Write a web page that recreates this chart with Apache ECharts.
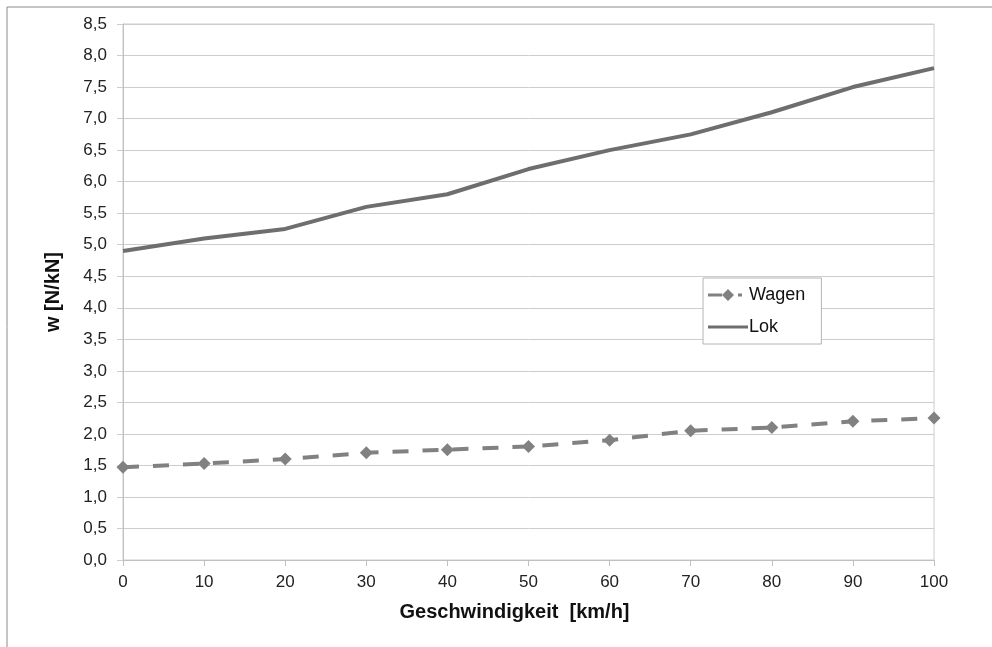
<!doctype html>
<meta charset="utf-8">
<style>
  html, body {
    margin: 0;
    height: 100%;
    background: #fff;
  }

  #chart {
    width: 992px;
    height: 647px;
  }
</style>
<script src="https://cdn.jsdelivr.net/npm/echarts@6/dist/echarts.min.js"></script>

<div id="chart"></div>

<script>
  const speeds = [0, 10, 20, 30, 40, 50, 60, 70, 80, 90, 100]
  const wagen = [1.47, 1.53, 1.6, 1.7, 1.75, 1.8, 1.9, 2.05, 2.1, 2.2, 2.25]
  const lok = [4.9, 5.1, 5.25, 5.6, 5.8, 6.2, 6.5, 6.75, 7.1, 7.5, 7.8]

  const font = 'Liberation Sans, Arial, sans-serif'
  const gridColor = '#cdcdcd'
  // legend icons drawn inside a 40x12 box (corner moves keep the box)
  const wagenIcon = 'path://M0,0 L0,0 M40,12 L40,12 M0,4.5 L14,4.5 L14,7.5 L0,7.5 Z M14,6 L20,0 L26,6 L20,12 Z M30,4.5 L34,4.5 L34,7.5 L30,7.5 Z'
  const lokIcon = 'path://M0,0 L0,0 M40,12 L40,12 M0,4.5 L40,4.5 L40,7.5 L0,7.5 Z'
  let chart = echarts.init(document.getElementById('chart'))

  chart.setOption({
    animation: false,
    graphic: [{
      type: 'rect',
      shape: { x: 7, y: 7, width: 1100, height: 800 },
      style: { fill: 'none', stroke: '#8c8c8c', lineWidth: 1 },
      silent: true,
      z: -1,
    }],
    grid: {
      left: 123,
      right: 58,
      top: 24,
      bottom: 87,
      show: true,
      borderColor: gridColor,
      borderWidth: 1,
    },
    legend: {
      orient: 'vertical',
      left: 703,
      top: 278,
      width: 118,
      itemWidth: 40,
      itemHeight: 12,
      itemGap: 14,
      padding: [8, 16, 8, 5],
      borderColor: '#b4b4b4',
      borderWidth: 1,
      backgroundColor: '#fff',
      textStyle: { fontFamily: font, fontSize: 18, color: '#111', padding: [0, 0, 0, -4] },
      data: [
        { name: 'Wagen', icon: wagenIcon, itemStyle: { color: '#818181' } },
        { name: 'Lok', icon: lokIcon, itemStyle: { color: '#6e6e6e' } },
      ],
    },
    xAxis: {
      type: 'value',
      min: 0,
      max: 100,
      interval: 10,
      name: 'Geschwindigkeit  [km/h]',
      nameLocation: 'middle',
      nameGap: 42,
      nameTextStyle: { fontFamily: font, fontSize: 20, fontWeight: 'bold', color: '#111', padding: [0, 28, 0, 0] },
      axisLine: { lineStyle: { color: '#c0c0c0', width: 1 } },
      axisTick: { show: true, length: 6, lineStyle: { color: '#c0c0c0' } },
      axisLabel: { fontFamily: font, fontSize: 17, color: '#222', margin: 14 },
      splitLine: { show: false },
    },
    yAxis: {
      type: 'value',
      min: 0,
      max: 8.5,
      interval: 0.5,
      name: 'w [N/kN]',
      nameLocation: 'middle',
      nameGap: 60,
      nameTextStyle: { fontFamily: font, fontSize: 20, fontWeight: 'bold', color: '#111' },
      axisLine: { show: true, lineStyle: { color: '#c0c0c0', width: 1 } },
      axisTick: { show: true, length: 6, lineStyle: { color: gridColor } },
      axisLabel: {
        fontFamily: font,
        fontSize: 17,
        color: '#222',
        margin: 16,
        formatter: v => v.toFixed(1).replace('.', ','),
      },
      splitLine: { lineStyle: { color: gridColor, width: 1 } },
    },
    series: [
      {
        name: 'Wagen',
        type: 'line',
        data: speeds.map((s, i) => [s, wagen[i]]),
        symbol: 'diamond',
        symbolSize: 13,
        itemStyle: { color: '#818181' },
        lineStyle: { color: '#818181', width: 4, type: [16, 14], cap: 'butt' },
      },
      {
        name: 'Lok',
        type: 'line',
        data: speeds.map((s, i) => [s, lok[i]]),
        symbol: 'none',
        itemStyle: { color: '#6e6e6e' },
        lineStyle: { color: '#6e6e6e', width: 4 },
      },
    ],
  })
</script>
